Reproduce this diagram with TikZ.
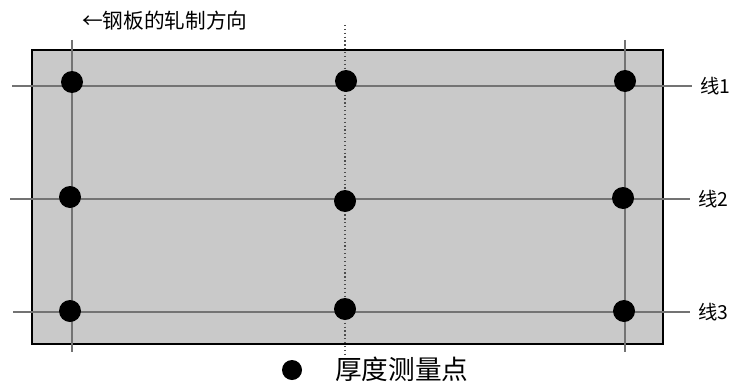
\documentclass[tikz,border=0pt]{standalone}
\usepackage{fontspec}
\newfontfamily\cjk{Noto Sans CJK SC}
\usetikzlibrary{positioning}
\tikzstyle{dot} = [circle, fill=black, inner sep=0pt, minimum size=16.5pt]
\tikzstyle{gridline} = [draw=black!55, line width=0.9pt]
\tikzstyle{lbl} = [font=\cjk\fontsize{14.5}{14.5}\selectfont, inner sep=0pt, anchor=west]

\begin{document}
\begin{tikzpicture}[x=0.75pt, y=-0.75pt]
\useasboundingbox (0,0) rectangle (737,385);
% steel plate
\draw [fill=black!21, line width=1.2pt] (32,50) rectangle (663,344);
% line ends
\coordinate (h1s) at (12,86);  \coordinate (h1e) at (692,86);
\coordinate (h2s) at (10,199); \coordinate (h2e) at (690,199);
\coordinate (h3s) at (13,312); \coordinate (h3e) at (690,312);
\coordinate (v1s) at (72,40);  \coordinate (v1e) at (72,352);
\coordinate (v3s) at (625,40); \coordinate (v3e) at (625,352);
\coordinate (mids) at (345,25); \coordinate (mide) at (345,354);
\draw [gridline] (h1s) -- (h1e);
\draw [gridline] (h2s) -- (h2e);
\draw [gridline] (h3s) -- (h3e);
\draw [gridline] (v1s) -- (v1e);
\draw [gridline] (v3s) -- (v3e);
\draw [gridline, draw=black!70, dotted] (mids) -- (mide);
% measuring points
\node (d11) [dot] at (72,82) {};
\node (d12) [dot] at (346,81) {};
\node (d13) [dot] at (625,81) {};
\node (d21) [dot] at (70,197) {};
\node (d22) [dot] at (345,201) {};
\node (d23) [dot] at (623,198) {};
\node (d31) [dot] at (70,311) {};
\node (d32) [dot] at (345,309) {};
\node (d33) [dot] at (624,311) {};
% labels
\node (l1) [lbl, right=6pt of h1e] {线1};
\node (l2) [lbl, right=6pt of h2e] {线2};
\node (l3) [lbl, right=6pt of h3e] {线3};
\node (dir) [lbl, font=\cjk\fontsize{15.5}{15.5}\selectfont] at (82,21) {←钢板的轧制方向};
% legend
\node (key) [dot, minimum size=15pt] at (292,370) {};
\node (keytext) [lbl, font=\cjk\fontsize{20}{20}\selectfont] at (335,369) {厚度测量点};
\end{tikzpicture}
\end{document}
